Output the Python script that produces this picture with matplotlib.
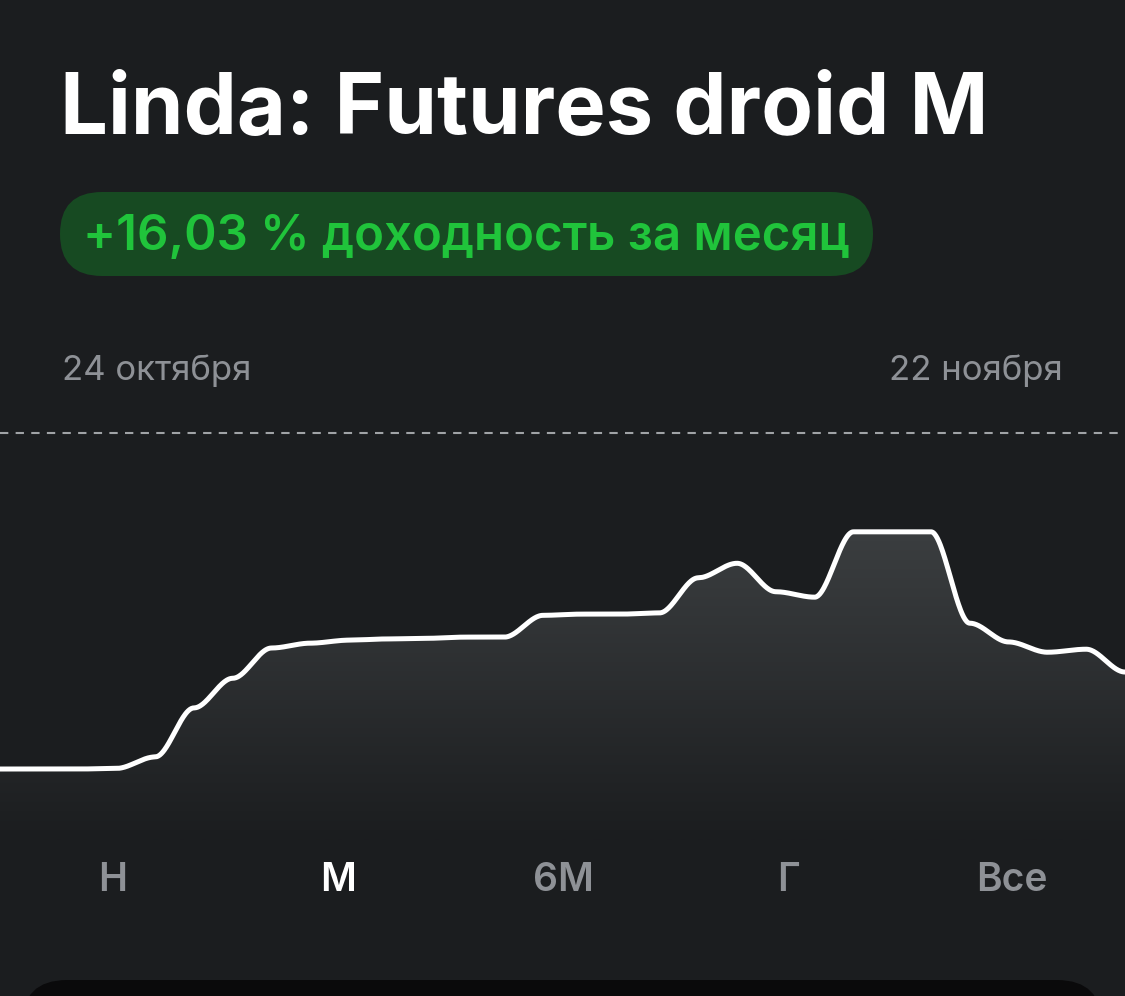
import numpy as np
import matplotlib.pyplot as plt
from matplotlib.patches import FancyBboxPatch
from matplotlib.colors import LinearSegmentedColormap

# cumulative return, %, one point per day (24 Oct .. 22 Nov)
days = np.arange(30)
returns = [0.0, 0.0, 0.0, 0.1, 2.0, 10.1, 15.0, 20.0, 20.8, 21.3,
           21.5, 21.6, 21.8, 21.8, 25.4, 25.6, 25.6, 25.8, 31.6, 34.0,
           29.3, 28.4, 39.2, 39.2, 39.2, 24.1, 21.0, 19.3, 19.8, 16.03]
title = "Linda: Futures droid M"
badge = "+16,03 % доходность за месяц"
date_labels = ["24 октября", "22 ноября"]
tabs = ["Н", "М", "6М", "Г", "Все"]
active_tab = "М"

BG = "#1b1d1f"
GREY = "#8e9196"
W, H = 1125, 996
YMIN, YMAX = -11.73, 55.53


def smooth_steps(x, y, xs):
    # hermite segments with flat tangents at every point (app-style curve)
    x = np.asarray(x, float)
    y = np.asarray(y, float)
    idx = np.clip(np.searchsorted(x, xs) - 1, 0, len(x) - 2)
    t = (xs - x[idx]) / (x[idx + 1] - x[idx])
    s = t * t * (3 - 2 * t)
    return y[idx] + (y[idx + 1] - y[idx]) * s


plt.rcParams['font.family'] = ['Inter', 'DejaVu Sans']
fig = plt.figure(figsize=(W / 100, H / 100), dpi=100)
fig.patch.set_facecolor(BG)

# background layer for the UI bits, pixel coordinates (y down)
bg = fig.add_axes([0, 0, 1, 1])
bg.set_xlim(0, W)
bg.set_ylim(H, 0)
bg.axis("off")

bg.text(60, 134, title, fontsize=61, fontweight="bold", color="white",
        va="baseline", ha="left")
bg.add_patch(FancyBboxPatch((60, 192), 813, 84,
                            boxstyle="round,pad=0,rounding_size=42",
                            fc="#174a22", ec="none"))
bg.text(466, 237, badge, fontsize=35.4, fontweight="semibold", color="#20c43b",
        ha="center", va="center")
bg.text(62, 371, date_labels[0], fontsize=25, color=GREY, ha="left", va="center")
bg.text(1063, 371, date_labels[1], fontsize=25, color=GREY, ha="right", va="center")

tab_x = [113, 338, 563, 788, 1012]
for tx, lab in zip(tab_x, tabs):
    bg.text(tx, 880, lab, fontsize=28, fontweight="semibold",
            color="white" if lab == active_tab else GREY,
            ha="center", va="center")

bg.add_patch(FancyBboxPatch((22, 980), 1080, 60,
                            boxstyle="round,pad=0,rounding_size=45",
                            fc="#0a0a0b", ec="none"))

# chart axes: top edge at the dashed line (y=433 px), bottom at 840 px
ax = fig.add_axes([0, 1 - 840 / H, 1, (840 - 433) / H])
ax.set_facecolor("none")
ax.axis("off")
ax.set_xlim(days[0], days[-1])
ax.set_ylim(YMIN, YMAX)

xs = np.linspace(days[0], days[-1], 1500)
ys = smooth_steps(days, returns, xs)

# gradient under the curve
grad = np.linspace(0, 1, 256).reshape(-1, 1)
cmap = LinearSegmentedColormap.from_list("fill", [BG, "#3b3e40"])
img = ax.imshow(grad, extent=[days[0], days[-1], YMIN, max(returns)],
                origin="lower", aspect="auto", cmap=cmap, vmin=0, vmax=1,
                zorder=1)
poly = ax.fill_between(xs, ys, YMIN, color="none")
img.set_clip_path(poly.get_paths()[0], transform=ax.transData)

ax.plot(xs, ys, color="white", lw=3.6, solid_capstyle="round", zorder=3)
ax.plot([0, 1], [1, 1], transform=ax.transAxes, color="#a0a3a6", lw=1.5,
        dashes=(4, 3.5), clip_on=False, zorder=2)

fig.savefig("out.png", dpi=100, facecolor=BG)
